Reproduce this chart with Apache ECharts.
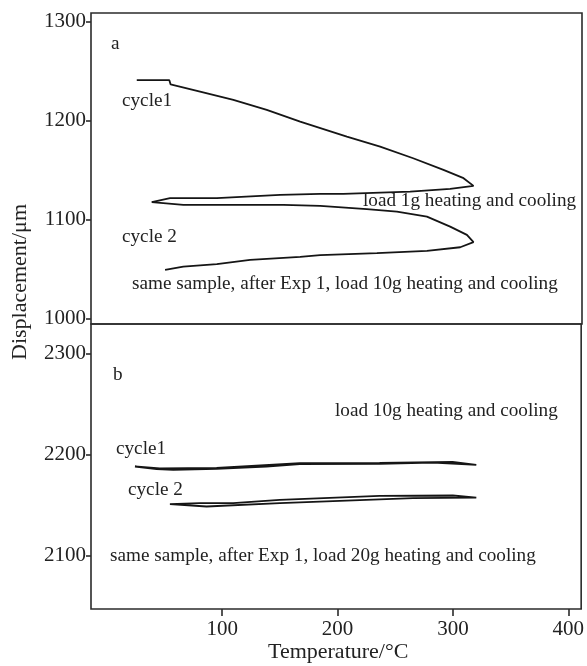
<!DOCTYPE html>
<html lang="en">
<head>
    <meta charset="utf-8">
    <title>Displacement vs temperature</title>
    <script type="text/javascript" src="https://cdn.jsdelivr.net/npm/echarts@6/dist/echarts.min.js"></script>
    <style>
        html, body { margin: 0; padding: 0; background: #fff; }
    </style>
</head>
<body>
<div id="main" style="width: 587px;height:666px;"></div>
<script>
    // tick values
    var tempTicks = [100, 200, 300, 400];
    var dispTicksA = [1000, 1100, 1200, 1300];
    var dispTicksB = [2100, 2200, 2300];

    // panel a (load 1g / 10g), [temperature, displacement]
    var aCycle1 = [
        [25.9, 1241.0], [54.1, 1241.0], [55.2, 1236.7], [80.7, 1229.5], [109.5, 1221.1],
        [138.4, 1210.9], [167.3, 1199.1], [207.7, 1183.9], [236.5, 1173.8], [265.1, 1162.0],
        [291.3, 1150.2], [308.7, 1141.8], [317.3, 1134.0],
        [297.1, 1131.0], [262.5, 1128.2], [204.8, 1125.9], [184.6, 1125.9], [150.0, 1124.9],
        [95.2, 1121.6], [54.7, 1121.6], [38.9, 1117.5]
    ];
    var aCycle2 = [
        [38.9, 1117.5], [66.2, 1114.8], [152.8, 1114.8], [184.6, 1113.8], [225.0, 1110.4],
        [251.0, 1108.0], [277.0, 1102.9], [297.1, 1092.8], [311.6, 1084.4], [317.3, 1077.0],
        [305.8, 1071.9], [277.0, 1068.2], [233.7, 1065.9], [184.6, 1064.0], [167.3, 1062.2],
        [124.0, 1059.1], [95.2, 1054.8], [66.2, 1052.3], [50.4, 1049.0]
    ];

    // panel b (load 10g / 20g)
    var bCycle1 = [
        [24.4, 2188.0], [43.2, 2185.4], [57.6, 2184.7], [95.2, 2185.7], [138.4, 2188.0],
        [167.3, 2190.3], [236.5, 2190.6], [282.7, 2191.9], [320.3, 2189.6],
        [299.7, 2192.6], [236.5, 2191.6], [167.3, 2191.3], [95.2, 2186.7], [46.0, 2186.2], [24.4, 2188.0]
    ];
    var bCycle2 = [
        [54.7, 2150.8], [86.5, 2148.4], [150.0, 2151.8], [207.7, 2154.3], [265.4, 2156.7],
        [320.3, 2157.3],
        [300.0, 2159.3], [236.5, 2159.0], [150.0, 2155.0], [109.5, 2151.8], [80.7, 2151.8], [54.7, 2150.8]
    ];

    var serif = "'Liberation Serif', 'Times New Roman', serif";
    var ink = '#151515';
    var frame = '#2b2b2b';

    function note(text, x, y) {
        return {
            type: 'text', left: x, top: y - 11,
            style: { text: text, fontFamily: serif, fontSize: 19.2, fill: '#222' }
        };
    }

    function curve(data, idx) {
        return {
            type: 'line', data: data, xAxisIndex: idx, yAxisIndex: idx,
            showSymbol: false, symbol: 'none', silent: true, animation: false,
            lineStyle: { color: ink, width: 1.8 }
        };
    }

    function tickLabels(vals, margin) {
        return {
            customValues: vals, margin: margin, fontFamily: serif, fontSize: 21, color: '#222',
            formatter: function (v) { return String(v); }
        };
    }

    var myChart = echarts.init(document.getElementById('main'));
    var option = {
        backgroundColor: '#fff',
        animation: false,
        grid: [
            { left: 91, top: 13, width: 491, height: 311, show: true, borderColor: frame, borderWidth: 1.6 },
            { left: 91, top: 324, width: 491, height: 285, show: true, borderColor: frame, borderWidth: 1.6 }
        ],
        xAxis: [
            {
                gridIndex: 0, type: 'value', min: -13.7, max: 411.2,
                axisLine: { show: false, onZero: false }, axisTick: { show: false },
                axisLabel: { show: false }, splitLine: { show: false }
            },
            {
                gridIndex: 1, type: 'value', min: -13.7, max: 411.2,
                axisLine: { show: false, onZero: false },
                axisTick: { customValues: tempTicks, length: 7, lineStyle: { color: frame, width: 1.6 } },
                axisLabel: tickLabels(tempTicks, 10),
                splitLine: { show: false }
            }
        ],
        yAxis: [
            {
                gridIndex: 0, type: 'value', min: 994.2, max: 1309,
                axisLine: { show: false, onZero: false },
                axisTick: { customValues: dispTicksA, length: 5, lineStyle: { color: frame, width: 1.6 } },
                axisLabel: tickLabels(dispTicksA, 5),
                splitLine: { show: false }
            },
            {
                gridIndex: 1, type: 'value', min: 2047, max: 2329,
                axisLine: { show: false, onZero: false },
                axisTick: { customValues: dispTicksB, length: 5, lineStyle: { color: frame, width: 1.6 } },
                axisLabel: tickLabels(dispTicksB, 5),
                splitLine: { show: false }
            }
        ],
        series: [
            curve(aCycle1, 0),
            curve(aCycle2, 0),
            curve(bCycle1, 1),
            curve(bCycle2, 1)
        ],
        graphic: [
            note('a', 111, 45),
            note('cycle1', 122, 102),
            note('cycle 2', 122, 238),
            note('load 1g heating and cooling', 363, 202),
            note('same sample, after Exp 1, load 10g heating and cooling', 132, 285),
            note('b', 113, 376),
            note('load 10g heating and cooling', 335, 412),
            note('cycle1', 116, 450),
            note('cycle 2', 128, 491),
            note('same sample, after Exp 1, load 20g heating and cooling', 110, 557),
            {
                type: 'text', left: 268, top: 641,
                style: { text: 'Temperature/°C', fontFamily: serif, fontSize: 22, fill: '#222' }
            },
            {
                type: 'text', x: 20, y: 282, rotation: Math.PI / 2,
                style: {
                    text: 'Displacement/μm', fontFamily: serif, fontSize: 22, fill: '#222',
                    align: 'center', verticalAlign: 'middle'
                }
            }
        ]
    };
    myChart.setOption(option);
</script>
</body>
</html>
